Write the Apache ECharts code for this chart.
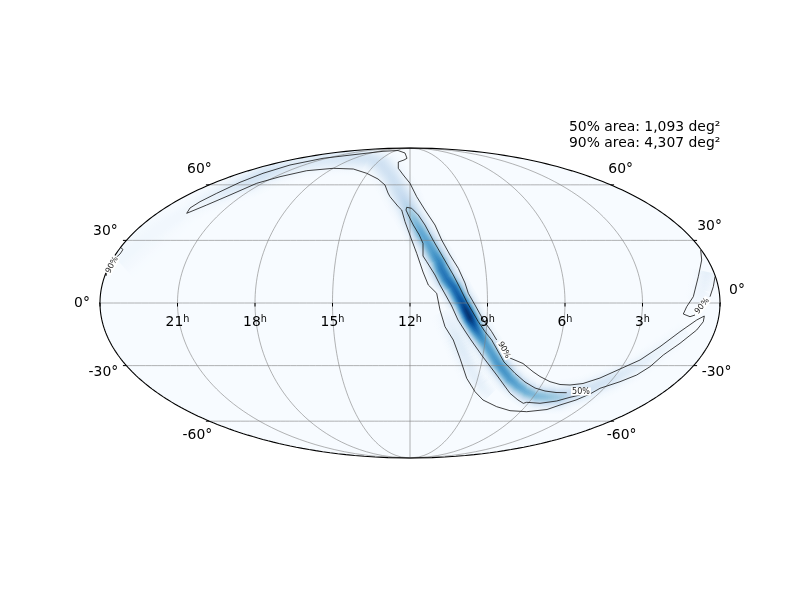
<!DOCTYPE html>
<html>
<head>
<meta charset="utf-8">
<style>
  html, body { margin: 0; padding: 0; background: #fff; }
  #chart { width: 800px; height: 600px; }
</style>
<script src="https://cdn.jsdelivr.net/npm/echarts@6/dist/echarts.min.js"></script>
</head>
<body>
<div id="chart"></div>
<script>
// sky grid
const raHours = [21, 18, 15, 9, 6, 3]
const raLabels = ['21', '18', '15', '12', '9', '6', '3']
const raLabelHours = [21, 18, 15, 12, 9, 6, 3]
const decDegrees = [60, 30, 0, -30, -60]
const areaLabels = ['50% area: 1,093 deg²', '90% area: 4,307 deg²']

// contours, in Mollweide plane units (half axes 310 x 155)
const contour90Main = [
  [100, -55], [113, -60.5], [123, -68.7], [130, -73.5], [140, -78.7], [150, -81.5], [160, -82], [173, -80.5],
  [190, -75], [210, -66], [230, -57], [250, -43.7], [270, -28.7], [286.7, -17], [294.3, -13], [295, -14.5],
  [293.3, -18.7], [286.7, -27], [270, -40.3], [253.3, -52], [240, -63.7], [226.7, -72], [210, -78.7], [190, -85.3],
  [180, -91], [166, -97], [150, -102], [137, -106.5], [116.7, -108.7], [100, -107.7], [86.7, -103.7], [73, -97],
  [65, -88.7], [56.7, -75.3], [50, -55.3], [43.3, -37], [35, -23.7], [30, -7], [26.7, 9.7], [18.3, 18],
  [13, 31], [6.7, 49.7], [1.7, 63], [-5, 81.3], [-8.3, 93], [-11.7, 96.3], [-20, 106.3], [-22, 110],
  [-25, 118], [-32, 124], [-43.3, 129.7], [-56.7, 134], [-76.7, 134.7], [-103.3, 132.3], [-130, 126.3], [-153.3, 119.7],
  [-180, 108], [-203.3, 98], [-223.3, 89.7], [-220, 95], [-210, 101.3], [-193.3, 109.7], [-170, 120.7], [-147, 129.7],
  [-120, 138], [-87, 144.7], [-53, 148.7], [-27, 151.7], [-12, 152.5], [-5, 150], [-3, 144.7], [-6, 143],
  [-11.7, 141], [-11.7, 134.7], [-6.7, 128], [0, 119.7], [6.7, 106.3], [15, 93], [25, 78], [31.7, 63],
  [40, 48], [48.3, 34.7], [55, 20], [58.3, 9.7], [65, -2], [73.3, -17], [81.7, -28.7], [86.7, -37]
]
const contour90EastA = [
  [290.7, 53], [291.7, 43], [288.3, 26.3], [283.3, 6.3], [276.7, -3.7], [273.3, -11], [280, -13.7], [285, -12]
]
const contour90EastB = [[300, 6.3], [303.3, 16.3], [305, 26.3]]
const contour90WestA = [[-290, 56], [-287, 53.5], [-290, 49], [-295, 44.5]]
const contour90WestB = [[-303, 31], [-304, 27]]
const contour50 = [
  [156.7, -89.7], [146, -89.5], [135, -88], [125, -85], [115, -79], [105, -70.3], [94, -59], [81.7, -37],
  [75, -28.7], [68.3, -18.7], [56.7, 1.3], [50, 15], [43.3, 28], [31.7, 48], [23, 63], [15, 78],
  [8.3, 88], [1.7, 94.7], [-3.3, 95.7], [-4, 93], [-1.7, 88], [3.3, 78], [9.3, 68], [13, 59.7],
  [13, 47], [16.7, 41.3], [25, 28], [30, 18], [41.7, -3], [48, -17], [55, -28], [61, -37],
  [73, -54], [86.7, -72], [100, -90.3], [108, -97], [113.3, -100.3], [116.7, -99.3], [130, -100.3], [146.7, -98],
  [160, -94.3], [170, -92]
]

// contour labels: x, y, text, rotation
const contourLabels = [
  [94, -47, '90%', -62],
  [171, -88.5, '50%', 0],
  [292, -3, '90%', 50],
  [-298, 38, '90%', 62]
]

// probability ridge: plane x, plane y, density (0-1), spread
const ridgeX = [
  -290, -270, -245, -220, -205, -190, -175, -160, -145, -130, -115, -100, -85, -70, -55, -40, -28, -20, -13, -7,
  -2, 2, 7, 12, 18, 23, 29, 32, 37, 44, 49, 53, 57, 61, 66, 71, 77, 82, 87, 93, 100, 108, 117, 127, 138, 150, 162, 175,
  188, 202, 216, 230, 245, 260, 275,
  297, 293, 285,
  34, 40, 45, 52, 60, 70, 80
]
const ridgeY = [
  43, 61, 78, 94, 103, 109, 116, 122, 129, 134, 138, 141, 143, 144, 145, 144, 138, 128, 116, 105,
  95, 87, 78, 69, 60, 51, 41, 33, 24, 15, 6, -1, -9, -17, -26, -34, -43, -51, -59, -67, -76, -83, -89, -93, -94, -94, -91, -88,
  -82, -76, -69, -61, -51, -40, -29,
  31, 13, 0,
  -8, -20, -32, -47, -65, -82, -92
]
const ridgeDensity = [
  0.035, 0.035, 0.03, 0.03, 0.06, 0.09, 0.13, 0.17, 0.19, 0.16, 0.13, 0.13, 0.14, 0.15, 0.17, 0.18, 0.2, 0.2, 0.21, 0.25,
  0.3, 0.38, 0.46, 0.53, 0.55, 0.58, 0.66, 0.72, 0.74, 0.78, 0.82, 0.88, 0.98, 1, 0.82, 0.68, 0.58, 0.58, 0.6, 0.62, 0.6, 0.55, 0.5, 0.45, 0.42, 0.36, 0.25, 0.2,
  0.18, 0.17, 0.13, 0.1, 0.07, 0.05, 0.03,
  0.09, 0.06, 0.03,
  0.03, 0.08, 0.12, 0.12, 0.1, 0.09, 0.05
]
const ridgeSpread = [
  26, 26, 24, 16, 16, 16, 16, 17, 17, 17, 17, 17, 17, 17, 18, 18, 20, 20, 20, 20,
  19, 18, 18, 18, 18, 18, 18, 18, 18, 17, 17, 17, 17, 17, 17, 17, 17, 17, 17, 17, 17, 17, 17, 17, 17, 17, 16, 16,
  15, 15, 15, 14, 14, 14, 14,
  18, 16, 14,
  16, 16, 16, 16, 16, 14, 14
]
// first index of every separate stretch of the ridge; the first is the main band
const ridgeRunStarts = [0, 55, 58]

const BLUES = ['#f7fbff', '#deebf7', '#c6dbef', '#9ecae1', '#6baed6', '#4292c6', '#2171b5', '#08519c', '#08306b']
const GRID_COLOR = 'rgba(128,128,128,0.6)'
const FONT = 'DejaVu Sans'
const HALF_W = 310
const HALF_H = 155

// Mollweide: lon and lat in degrees, result in plane units
const project = (lon, lat) => {
  const target = Math.PI * Math.sin(lat * Math.PI / 180)
  let theta = lat * Math.PI / 180
  if (Math.abs(lat) === 90) {
    theta = Math.sign(lat) * Math.PI / 2
  } else {
    for (let i = 0; i < 30; i++) {
      theta -= (2 * theta + Math.sin(2 * theta) - target) / (2 + 2 * Math.cos(2 * theta))
    }
  }
  return [HALF_W * (lon / 180) * Math.cos(theta), HALF_H * Math.sin(theta)]
}
const raToLon = (ra) => (12 - ra) * 15

const sweep = (from, to, step, fn) => {
  const out = []
  for (let v = from; v <= to; v += step) out.push(fn(v))
  return out
}

const boundary = sweep(-90, 90, 1, (lat) => project(180, lat))
  .concat(sweep(-90, 90, 1, (lat) => project(-180, -lat)))

const lineSeries = (data, color, width, z) => ({
  type: 'line',
  data,
  symbol: 'none',
  silent: true,
  animation: false,
  clip: false,
  z,
  lineStyle: { color, width }
})

const blue = (d) => echarts.color.lerp(Math.min(d, 1), BLUES)

// one record per ridge segment, joining neighbours inside a run
const ridgeSegments = []
ridgeX.forEach((x, i) => {
  if (i === ridgeX.length - 1 || ridgeRunStarts.includes(i + 1)) return
  ridgeSegments.push([
    x, ridgeY[i], ridgeDensity[i], ridgeSpread[i],
    ridgeX[i + 1], ridgeY[i + 1], ridgeDensity[i + 1], ridgeSpread[i + 1],
    i < ridgeRunStarts[1] ? 0 : 1
  ])
})

const renderBoundaryFill = (params, api) => ({
  type: 'polygon',
  shape: { points: boundary.map((p) => api.coord(p)) },
  style: { fill: BLUES[0] },
  silent: true
})

// main band is opaque over the sky colour, side stretches fade out by alpha so they never wipe it
const crossStops = (d, soft) => sweep(0, 16, 1, (j) => {
  const u = (j / 16 - 0.5) * 4
  const k = Math.exp(-u * u)
  return {
    offset: j / 16,
    color: soft ? echarts.color.modifyAlpha(blue(d), k) : blue(d * k)
  }
})

let clipPoints = null
const renderRidge = (params, api) => {
  if (!clipPoints) clipPoints = boundary.map((p) => api.coord(p))
  const a = api.coord([api.value(0), api.value(1)])
  const b = api.coord([api.value(4), api.value(5)])
  const soft = api.value(8) === 1
  const lap = soft ? 0.2 : 2
  const len = Math.hypot(b[0] - a[0], b[1] - a[1]) || 1
  const dx = (b[0] - a[0]) / len
  const dy = (b[1] - a[1]) / len
  const children = []
  const steps = 6
  for (let k = 0; k < steps; k++) {
    const t0 = k / steps
    const t1 = (k + 1) / steps
    const tm = (t0 + t1) / 2
    const d = api.value(2) + (api.value(6) - api.value(2)) * tm
    const s = api.size([api.value(3) + (api.value(7) - api.value(3)) * tm, 0])[0]
    const ax = a[0] + (b[0] - a[0]) * t0 - dx * lap
    const ay = a[1] + (b[1] - a[1]) * t0 - dy * lap
    const bx = a[0] + (b[0] - a[0]) * t1 + dx * lap
    const by = a[1] + (b[1] - a[1]) * t1 + dy * lap
    const nx = -dy * s
    const ny = dx * s
    const mx = (ax + bx) / 2
    const my = (ay + by) / 2
    children.push({
      type: 'polygon',
      silent: true,
      shape: { points: [[ax - nx, ay - ny], [bx - nx, by - ny], [bx + nx, by + ny], [ax + nx, ay + ny]] },
      style: {
        fill: {
          type: 'linear', global: true,
          x: mx - nx, y: my - ny, x2: mx + nx, y2: my + ny,
          colorStops: crossStops(d, soft)
        }
      }
    })
  }
  return {
    type: 'group',
    clipPath: { type: 'polygon', shape: { points: clipPoints } },
    children
  }
}

const series = []

series.push({
  type: 'custom', data: [[0, 0]], renderItem: renderBoundaryFill, silent: true, animation: false, z: 1
})
series.push({
  type: 'custom', data: ridgeSegments, renderItem: renderRidge, silent: true, animation: false, z: 2
})

// graticule
raHours.forEach((ra) => {
  series.push(lineSeries(sweep(-90, 90, 2, (lat) => project(raToLon(ra), lat)), GRID_COLOR, 1, 3))
})
series.push(lineSeries([[0, -HALF_H], [0, HALF_H]], GRID_COLOR, 1, 3))
decDegrees.forEach((dec) => {
  series.push(lineSeries(sweep(-180, 180, 4, (lon) => project(lon, dec)), GRID_COLOR, 1, 3))
})

// contours
;[contour90Main, contour90EastA, contour90EastB, contour90WestA, contour90WestB, contour50].forEach((c) => {
  series.push(lineSeries(c, '#111', 0.8, 4))
})

// frame and ticks
series.push(lineSeries(boundary, '#000', 1.1, 5))
raLabelHours.concat([0, 24]).forEach((ra) => {
  const p = project(raToLon(ra), 0)
  series.push(lineSeries([p, [p[0], p[1] - 3.5]], '#000', 1, 5))
})
decDegrees.forEach((dec) => {
  const w = project(-180, dec)
  const e = project(180, dec)
  series.push(lineSeries([w, [w[0] - 3.5, w[1]]], '#000', 1, 5))
  series.push(lineSeries([e, [e[0] + 3.5, e[1]]], '#000', 1, 5))
})

// tick labels
const decOffsetWest = { 60: [-10, -15], 30: [-21, -9], 0: [-18, 0], '-30': [-23, 7], '-60': [-12, 14] }
const decOffsetEast = { 60: [10, -15], 30: [16, -14], 0: [17, -13], '-30': [23, 7], '-60': [11, 14] }
const textSeries = (points) => ({
  type: 'scatter',
  symbolSize: 0,
  itemStyle: { opacity: 1 },
  silent: true,
  animation: false,
  clip: false,
  z: 6,
  data: points
})

const decPoints = []
decDegrees.forEach((dec) => {
  ;[[-180, decOffsetWest], [180, decOffsetEast]].forEach(([lon, table]) => {
    decPoints.push({
      value: project(lon, dec),
      label: {
        show: true, position: 'inside', formatter: dec + '°',
        offset: table[dec], color: '#000', fontFamily: FONT, fontSize: 13.9
      }
    })
  })
})
series.push(textSeries(decPoints))

const raPoints = raLabels.map((text, i) => ({
  value: project(raToLon(raLabelHours[i]), 0),
  label: {
    show: true, position: 'inside', formatter: '{a|' + text + '}{b|h}', offset: [0, 19],
    rich: {
      a: { color: '#000', fontFamily: FONT, fontSize: 13.9, lineHeight: 16 },
      b: { color: '#000', fontFamily: FONT, fontSize: 9.7, lineHeight: 16, verticalAlign: 'top' }
    }
  }
}))
series.push(textSeries(raPoints))

const contourLabelPoints = contourLabels.map((row) => ({
  value: [row[0], row[1]],
  label: {
    show: true, position: 'inside', formatter: row[2], rotate: row[3],
    color: '#222', fontFamily: FONT, fontSize: 8, backgroundColor: '#fff', padding: [0, 1]
  }
}))
series.push(textSeries(contourLabelPoints))

const chart = echarts.init(document.getElementById('chart'), null, { renderer: 'canvas' })
chart.setOption({
  animation: false,
  backgroundColor: '#fff',
  title: {
    text: areaLabels.join('\n'),
    left: 569,
    top: 119,
    padding: 0,
    textStyle: { color: '#000', fontFamily: FONT, fontSize: 13.9, fontWeight: 'normal', lineHeight: 16.5 }
  },
  grid: { left: 100, top: 148, width: 620, height: 310 },
  xAxis: { type: 'value', min: -HALF_W, max: HALF_W, show: false },
  yAxis: { type: 'value', min: -HALF_H, max: HALF_H, show: false },
  series
})

window.addEventListener('resize', () => chart.resize())
</script>
</body>
</html>
